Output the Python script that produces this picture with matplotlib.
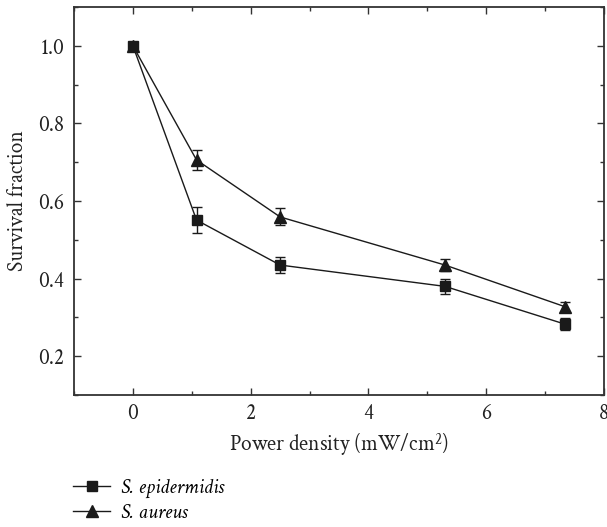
import matplotlib.pyplot as plt
from matplotlib.lines import Line2D
from matplotlib.ticker import MultipleLocator

plt.rcParams['font.family'] = ['Crimson Text', 'Liberation Serif', 'DejaVu Serif']
plt.rcParams['mathtext.fontset'] = 'custom'
plt.rcParams['mathtext.rm'] = 'Crimson Text'
plt.rcParams['mathtext.it'] = 'Crimson Text:italic'

power = [0, 1.08, 2.5, 5.3, 7.33]

epid = [1.0, 0.551, 0.435, 0.38, 0.283]
epid_err = [0.0, 0.034, 0.021, 0.019, 0.015]

aureus = [1.0, 0.706, 0.559, 0.435, 0.328]
aureus_err = [0.0, 0.026, 0.022, 0.016, 0.013]

labels = ['S. epidermidis', 'S. aureus']

fig = plt.figure(figsize=(6.07, 5.27), dpi=100)
ax = fig.add_axes([0.122, 0.2505, 0.873, 0.736])

ax.errorbar(power, epid, yerr=epid_err, color='#1a1a1a', marker='s', markersize=7.5,
            linewidth=1.0, elinewidth=1.0, capsize=3.5, capthick=1.0)
ax.errorbar(power, aureus, yerr=aureus_err, color='#1a1a1a', marker='^', markersize=9,
            linewidth=1.0, elinewidth=1.0, capsize=3.5, capthick=1.0)

ax.set_xlim(-1, 8)
ax.set_ylim(0.1, 1.1)
ax.xaxis.set_major_locator(MultipleLocator(2))
ax.xaxis.set_minor_locator(MultipleLocator(1))
ax.yaxis.set_major_locator(MultipleLocator(0.2))
ax.yaxis.set_minor_locator(MultipleLocator(0.1))
ax.yaxis.set_major_formatter(plt.FormatStrFormatter('%.1f'))

ax.tick_params(which='both', direction='in', top=True, right=True, labelsize=15.5, colors='#333333')
ax.tick_params(which='major', length=5, width=1.0)
ax.tick_params(which='minor', length=3, width=1.0)
ax.tick_params(labelcolor='#222222')
ax.tick_params(axis='y', pad=7)
ax.tick_params(axis='x', pad=6)
for sp in ax.spines.values():
    sp.set_linewidth(1.3)
    sp.set_color('#333333')

ax.set_xlabel(r'Power density (mW/cm$^{\mathregular{2}}$)', fontsize=15.5, color='#222222', labelpad=5)
ax.set_ylabel('Survival fraction', fontsize=15.5, color='#222222', labelpad=8)

handles = [
    Line2D([], [], color='#1a1a1a', marker='s', markersize=6.5, linewidth=1.0),
    Line2D([], [], color='#1a1a1a', marker='^', markersize=8, linewidth=1.0),
]
fig.legend(handles, labels, loc='upper left',
           bbox_to_anchor=(0.121, 0.092), frameon=False, handlelength=1.75,
           handletextpad=0.55, labelspacing=0.25, borderaxespad=0, borderpad=0,
           prop={'family': 'Crimson Text', 'style': 'italic', 'size': 15})

fig.savefig('out.png', dpi=100)
